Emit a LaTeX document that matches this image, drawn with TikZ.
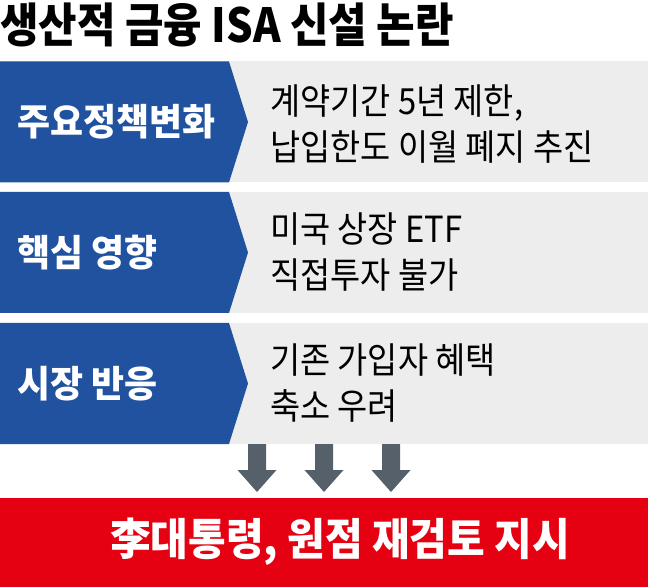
\documentclass[tikz,border=0pt]{standalone}
\usepackage{fontspec}
\newfontfamily\krtitle[FakeStretch=0.89]{Noto Sans CJK KR}
\newfontfamily\krbody[FakeStretch=0.91]{Noto Sans CJK KR}
\newfontfamily\krlabel[FakeStretch=0.97]{Noto Sans CJK KR}
\newfontfamily\krred[FakeStretch=0.93]{Noto Sans CJK KR}
\definecolor{bandblue}{RGB}{33,82,160}
\definecolor{bandgray}{RGB}{237,237,237}
\definecolor{arrowgray}{RGB}{86,96,106}
\definecolor{alertred}{RGB}{229,0,18}
\tikzset{
  label text/.style={anchor=west, inner sep=0pt, text=white, font=\krlabel\bfseries\fontsize{37}{42}\selectfont},
  body text/.style={anchor=west, inner sep=0pt, align=left, text=black, font=\krbody\fontsize{36}{46}\selectfont},
  chevron/.pic={
    \fill[bandgray] (0,60.5) rectangle (648,-60.5);
    \fill[bandblue] (0,60.5) -- (229,60.5) -- (248,0) -- (229,-60.5) -- (0,-60.5) -- cycle;
  },
}
\begin{document}
\begin{tikzpicture}[x=1pt,y=1pt]
\useasboundingbox (0,0) rectangle (648,587);
% title
\node[anchor=west, inner sep=0pt, font=\krtitle\bfseries\fontsize{47}{54}\selectfont] (title) at (0,562.5) {생산적 금융 ISA 신설 논란};
% rows
\coordinate (r1) at (0,465);
\coordinate (r2) at (0,334.5);
\coordinate (r3) at (0,203.5);
\pic at (r1) {chevron};
\pic at (r2) {chevron};
\pic at (r3) {chevron};
\node[label text] (l1) at ([xshift=17pt]r1) {주요정책변화};
\node[label text] (l2) at ([xshift=17pt]r2) {핵심 영향};
\node[label text] (l3) at ([xshift=17pt]r3) {시장 반응};
\node[body text] (b1) at ([xshift=270pt,yshift=-2pt]r1) {계약기간 5년 제한,\\납입한도 이월 폐지 추진};
\node[body text] (b2) at ([xshift=270pt]r2) {미국 상장 ETF\\직접투자 불가};
\node[body text] (b3) at ([xshift=270pt]r3) {기존 가입자 혜택\\축소 우려};
% red box
\fill[alertred] (0,89) rectangle (648,0);
\node[anchor=center, inner sep=0pt, text=white, font=\krred\bfseries\fontsize{44}{48}\selectfont] (res) at (340,45) {李대통령, 원점 재검토 지시};
% arrows
\coordinate (atop) at (257,143); \coordinate (atip) at (257,95);
\coordinate (btop) at (324,143); \coordinate (btip) at (324,95);
\coordinate (ctop) at (391,143); \coordinate (ctip) at (391,95);
\fill[arrowgray] ([xshift=-9pt]atop) -- ++(0,-26) -- ++(-10.5,0) -- (atip) -- ++(19.5,22) -- ++(-10.5,0) -- ++(0,26) -- cycle;
\fill[arrowgray] ([xshift=-9pt]btop) -- ++(0,-26) -- ++(-10.5,0) -- (btip) -- ++(19.5,22) -- ++(-10.5,0) -- ++(0,26) -- cycle;
\fill[arrowgray] ([xshift=-9pt]ctop) -- ++(0,-26) -- ++(-10.5,0) -- (ctip) -- ++(19.5,22) -- ++(-10.5,0) -- ++(0,26) -- cycle;
\end{tikzpicture}
\end{document}
